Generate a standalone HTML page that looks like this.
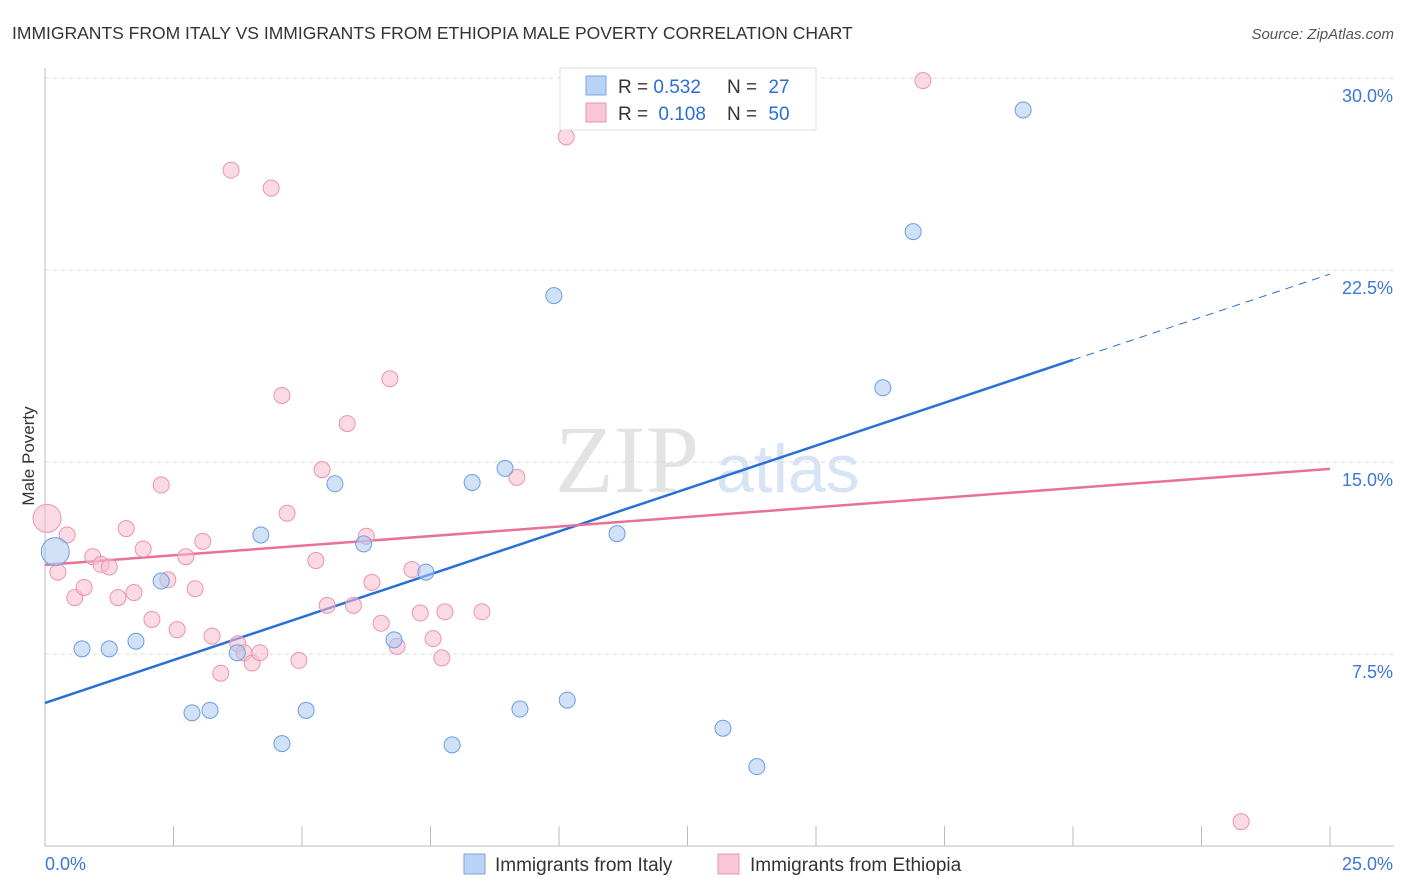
<!DOCTYPE html>
<html><head><meta charset="utf-8">
<style>
body{margin:0;background:#fff;font-family:"Liberation Sans",sans-serif;}
svg{display:block}
</style></head>
<body>
<svg id="chart" width="1406" height="892" xmlns="http://www.w3.org/2000/svg">
<text x="12" y="39" font-size="17.5" fill="#333">IMMIGRANTS FROM ITALY VS IMMIGRANTS FROM ETHIOPIA MALE POVERTY CORRELATION CHART</text>
<text x="1394" y="39" font-size="15" fill="#555" font-style="italic" text-anchor="end">Source: ZipAtlas.com</text>
<text transform="translate(34,456) rotate(-90)" font-size="17" fill="#333" text-anchor="middle">Male Poverty</text>
<g>
<text x="555" y="492" font-size="96" fill="#ddd" font-family="Liberation Serif,serif" opacity="0.8">ZIP</text>
<text x="716" y="492" font-size="68" fill="#c7daf2" opacity="0.7">atlas</text>
</g>
<g id="grid"></g>
<g id="axes"></g>
<g id="trends"></g>
<g id="points"></g>
<g>
<rect x="560" y="68" width="256" height="62" fill="#fff" stroke="#ddd"/>
<rect x="586" y="76" width="20" height="19" fill="#b9d3f5" stroke="#7aa6e0"/>
<rect x="586" y="103" width="20" height="19" fill="#f8c6d5" stroke="#eb94b0"/>
<text x="618" y="93" font-size="19" fill="#333">R = <tspan fill="#2a6fd6">0.532</tspan><tspan x="727">N = </tspan><tspan fill="#2a6fd6" dx="6">27</tspan></text>
<text x="618" y="120" font-size="19" fill="#333">R = <tspan fill="#2a6fd6" dx="5">0.108</tspan><tspan x="727">N = </tspan><tspan fill="#2a6fd6" dx="6">50</tspan></text>
</g>
<g>
<rect x="464" y="854" width="21" height="20" fill="#b9d3f5" stroke="#7aa6e0"/>
<text x="495" y="871" font-size="19" fill="#333">Immigrants from Italy</text>
<rect x="718" y="854" width="21" height="20" fill="#f8c6d5" stroke="#eb94b0"/>
<text x="750" y="871" font-size="19" fill="#333">Immigrants from Ethiopia</text>
</g>
</svg>
<script>
const italyX=[0.2,0.72,1.25,1.77,2.26,2.86,3.21,4.2,3.74,4.61,5.08,5.64,6.2,6.79,7.41,7.92,8.31,8.95,9.24,9.9,10.16,11.13,13.19,13.85,16.3,16.89,19.03];
const italyY=[11.5,7.7,7.7,8.0,10.35,5.2,5.3,12.15,7.55,4.0,5.3,14.15,11.8,8.05,10.7,3.95,14.2,14.75,5.35,21.5,5.7,12.2,4.6,3.1,17.9,24.0,28.75];
const ethX=[0.04,0.25,0.43,0.58,0.76,0.93,1.09,1.25,1.42,1.58,1.73,1.91,2.08,2.26,2.39,2.57,2.74,2.92,3.07,3.25,3.42,3.62,3.75,3.87,4.03,4.18,4.4,4.61,4.71,4.94,5.27,5.39,5.49,5.88,6.0,6.25,6.36,6.54,6.71,6.85,7.14,7.3,7.55,7.72,7.78,8.5,9.18,10.14,17.08,23.27];
const ethY=[12.8,10.7,12.15,9.7,10.1,11.3,11.0,10.9,9.7,12.4,9.9,11.6,8.85,14.1,10.4,8.45,11.3,10.05,11.9,8.2,6.75,26.4,7.9,7.55,7.15,7.55,25.7,17.6,13.0,7.25,11.15,14.7,9.4,16.5,9.4,12.1,10.3,8.7,18.25,7.8,10.8,9.1,8.1,7.35,9.15,9.15,14.4,27.7,29.9,0.95];
const italyTrend=[5.59,22.34];   // y at x=0 and x=25
const italySolidEnd=20.0;        // x where solid line ends
const ethTrend=[10.98,14.73];
const yTicks=[7.5,15.0,22.5,30.0];
const yTickLabels=["7.5%","15.0%","22.5%","30.0%"];
const xTicks=[0,2.5,5,7.5,10,12.5,15,17.5,20,22.5,25];

const NS="http://www.w3.org/2000/svg";
const X=v=>45+v*(1330-45)/25;
const Y=v=>846-v*25.6;
function mk(tag,attrs,parent){const e=document.createElementNS(NS,tag);for(const k in attrs)e.setAttribute(k,attrs[k]);parent.appendChild(e);return e;}
const grid=document.getElementById('grid'),axes=document.getElementById('axes'),trends=document.getElementById('trends'),pts=document.getElementById('points');

yTicks.forEach((t,i)=>{
  const l=mk('line',{x1:45,x2:1394,y1:Y(t),y2:Y(t),stroke:'#ddd','stroke-dasharray':'4,4'},grid);
  
  
  const tx=mk('text',{x:1393,y:Y(t)+24,'font-size':18,fill:'#3a78d4','text-anchor':'end'},axes);
  tx.textContent=yTickLabels[i];
  
  
});
const ax=mk('line',{x1:45,x2:45,y1:68,y2:846,stroke:'#bbb'},axes);


const bx=mk('line',{x1:45,x2:1394,y1:846,y2:846,stroke:'#bbb'},axes);


xTicks.forEach(t=>{
  const l=mk('line',{x1:X(t),x2:X(t),y1:826,y2:846,stroke:'#bbb'},axes);
  
  
});
const xl0=mk('text',{x:45,y:870,'font-size':18,fill:'#3a78d4'},axes);xl0.textContent='0.0%';


const xl1=mk('text',{x:1393,y:870,'font-size':18,fill:'#3a78d4','text-anchor':'end'},axes);xl1.textContent='25.0%';



function drawPts(xs,ys,fill,stroke,name){
  xs.forEach((x,i)=>{
    const big=(i===0);
    const c=mk('circle',{cx:X(x),cy:Y(ys[i]),r:big?14:8,fill:fill,'fill-opacity':0.55,stroke:stroke,'stroke-width':1},pts);
    
    
  });
}
drawPts(ethX,ethY,'#f8bccd','#eb94b0','point-ethiopia');
drawPts(italyX,italyY,'#a9c9f2','#6b9ee0','point-italy');

const ty=(tr,x)=>tr[0]+(tr[1]-tr[0])*x/25;
let l=mk('line',{x1:X(0),y1:Y(ty(italyTrend,0)),x2:X(italySolidEnd),y2:Y(ty(italyTrend,italySolidEnd)),stroke:'#2a6fd6','stroke-width':2.5},trends);


l=mk('line',{x1:X(italySolidEnd),y1:Y(ty(italyTrend,italySolidEnd)),x2:X(25),y2:Y(ty(italyTrend,25)),stroke:'#2a6fd6','stroke-width':1,'stroke-dasharray':'8,6'},trends);


l=mk('line',{x1:X(0),y1:Y(ty(ethTrend,0)),x2:X(25),y2:Y(ty(ethTrend,25)),stroke:'#e8719a','stroke-width':2.5},trends);


</script>
</body></html>
